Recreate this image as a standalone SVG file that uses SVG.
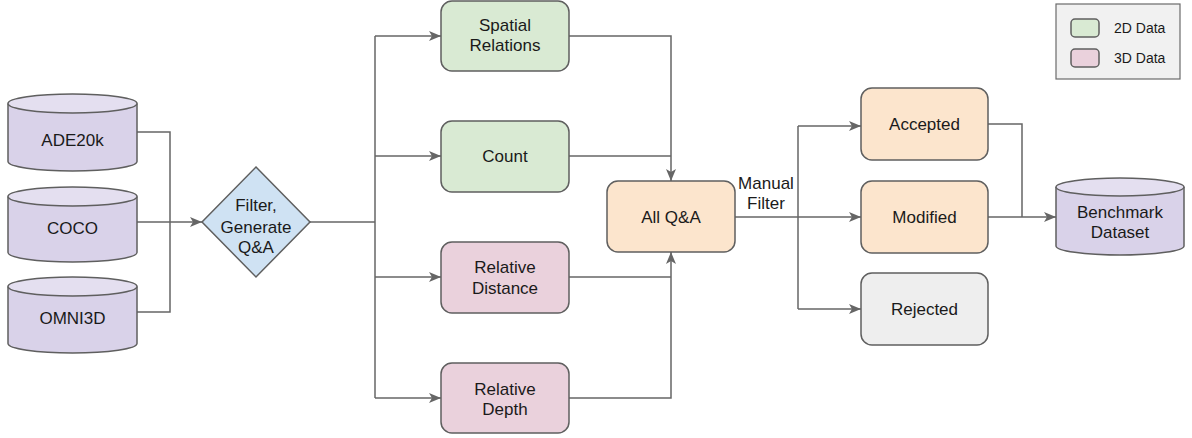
<svg xmlns="http://www.w3.org/2000/svg" width="1192" height="438" viewBox="0 0 1192 438">
  <style>
    .lbl { font-family: "Liberation Sans", Arial, sans-serif; font-size: 17px; fill: #1a1a1a; text-anchor: middle; }
    .leg { font-family: "Liberation Sans", Arial, sans-serif; font-size: 14px; fill: #1a1a1a; }
    .node { stroke: #5f5f5f; stroke-width: 1.5; }
    .db { fill: #d9d2e9; }
    .dbtop { fill: #e4dff0; }
    .g2d { fill: #d9ead3; }
    .g3d { fill: #ead1dc; }
    .qa { fill: #fce5cd; }
    .rej { fill: #eeeeee; }
    .dec { fill: #cfe2f3; }
    .wire { fill: none; stroke: #666666; stroke-width: 1.5; }
  </style>
  <defs>
    <marker id="arr" viewBox="0 0 12 10" refX="12" refY="5" markerWidth="12" markerHeight="10" markerUnits="userSpaceOnUse" orient="auto">
      <path d="M0,0 L12,5 L0,10 L3,5 Z" fill="#666666"/>
    </marker>
  </defs>

  <rect width="1192" height="438" fill="#ffffff"/>

  <!-- connectors -->
  <g id="connectors" class="wire">
    <path d="M137,132 H170 V312 H137"/>
    <path d="M137,222 H202" marker-end="url(#arr)"/>
    <path d="M310,222 H375"/>
    <path d="M375,36 V398"/>
    <path d="M375,36 H441" marker-end="url(#arr)"/>
    <path d="M375,156 H441" marker-end="url(#arr)"/>
    <path d="M375,277 H441" marker-end="url(#arr)"/>
    <path d="M375,398 H441" marker-end="url(#arr)"/>
    <path d="M569,36 H671 V181" marker-end="url(#arr)"/>
    <path d="M569,156 H671"/>
    <path d="M569,277 H671"/>
    <path d="M569,398 H671 V252" marker-end="url(#arr)"/>
    <path d="M735,217 H861" marker-end="url(#arr)"/>
    <path d="M798,126 V309"/>
    <path d="M798,126 H861" marker-end="url(#arr)"/>
    <path d="M798,309 H861" marker-end="url(#arr)"/>
    <path d="M988,124 H1022 V217"/>
    <path d="M988,217 H1056" marker-end="url(#arr)"/>
  </g>

  <!-- data sources -->
  <g id="ade20k">
    <path class="node db" d="M8,103.5 V161.5 A64.5,9.5 0 0 0 137,161.5 V103.5"/>
    <ellipse class="node dbtop" cx="72.5" cy="103.5" rx="64.5" ry="9.5"/>
    <text class="lbl" x="72.5" y="146">ADE20k</text>
  </g>
  <g id="coco">
    <path class="node db" d="M8,196.5 V252.5 A64.5,9.5 0 0 0 137,252.5 V196.5"/>
    <ellipse class="node dbtop" cx="72.5" cy="196.5" rx="64.5" ry="9.5"/>
    <text class="lbl" x="72.5" y="234">COCO</text>
  </g>
  <g id="omni3d">
    <path class="node db" d="M8,286.5 V343.5 A64.5,9.5 0 0 0 137,343.5 V286.5"/>
    <ellipse class="node dbtop" cx="72.5" cy="286.5" rx="64.5" ry="9.5"/>
    <text class="lbl" x="72.5" y="324">OMNI3D</text>
  </g>

  <!-- generation step -->
  <g id="filter-generate">
    <polygon class="node dec" points="256,167 310,222 256,277 202,222"/>
    <text class="lbl" x="256" y="211">Filter,</text>
    <text class="lbl" x="256" y="233">Generate</text>
    <text class="lbl" x="256" y="253">Q&amp;A</text>
  </g>

  <!-- question categories -->
  <g id="spatial-relations">
    <rect class="node g2d" x="441" y="1" width="128" height="70" rx="11"/>
    <text class="lbl" x="505" y="31">Spatial</text>
    <text class="lbl" x="505" y="51">Relations</text>
  </g>
  <g id="count">
    <rect class="node g2d" x="441" y="121" width="128" height="71" rx="11"/>
    <text class="lbl" x="505" y="162">Count</text>
  </g>
  <g id="relative-distance">
    <rect class="node g3d" x="441" y="242" width="128" height="71" rx="11"/>
    <text class="lbl" x="505" y="273">Relative</text>
    <text class="lbl" x="505" y="294">Distance</text>
  </g>
  <g id="relative-depth">
    <rect class="node g3d" x="441" y="363" width="128" height="70" rx="11"/>
    <text class="lbl" x="505" y="395">Relative</text>
    <text class="lbl" x="505" y="415">Depth</text>
  </g>

  <!-- pooled questions -->
  <g id="all-qa">
    <rect class="node qa" x="607" y="181" width="128" height="71" rx="11"/>
    <text class="lbl" x="671" y="223">All Q&amp;A</text>
  </g>
  <g id="manual-filter-label">
    <text class="lbl" x="766" y="189">Manual</text>
    <text class="lbl" x="766" y="209">Filter</text>
  </g>

  <!-- review outcomes -->
  <g id="accepted">
    <rect class="node qa" x="861" y="88" width="127" height="72" rx="11"/>
    <text class="lbl" x="924.5" y="130">Accepted</text>
  </g>
  <g id="modified">
    <rect class="node qa" x="861" y="181" width="127" height="72" rx="11"/>
    <text class="lbl" x="924.5" y="223">Modified</text>
  </g>
  <g id="rejected">
    <rect class="node rej" x="861" y="273" width="127" height="72" rx="11"/>
    <text class="lbl" x="924.5" y="315">Rejected</text>
  </g>

  <!-- output -->
  <g id="benchmark-dataset">
    <path class="node db" d="M1056,187 V246 A64,9 0 0 0 1184,246 V187"/>
    <ellipse class="node dbtop" cx="1120" cy="187" rx="64" ry="9"/>
    <text class="lbl" x="1120" y="218">Benchmark</text>
    <text class="lbl" x="1120" y="238">Dataset</text>
  </g>

  <!-- legend -->
  <g id="legend">
    <rect x="1056" y="4" width="124" height="75" fill="#f1f1f1" stroke="#6b6b6b" stroke-width="1.2"/>
    <rect class="node g2d" x="1071" y="19" width="28" height="18" rx="4" stroke-width="1.2"/>
    <rect class="node g3d" x="1071" y="49" width="28" height="18" rx="4" stroke-width="1.2"/>
    <text class="leg" x="1114" y="33">2D Data</text>
    <text class="leg" x="1114" y="63">3D Data</text>
  </g>
</svg>
